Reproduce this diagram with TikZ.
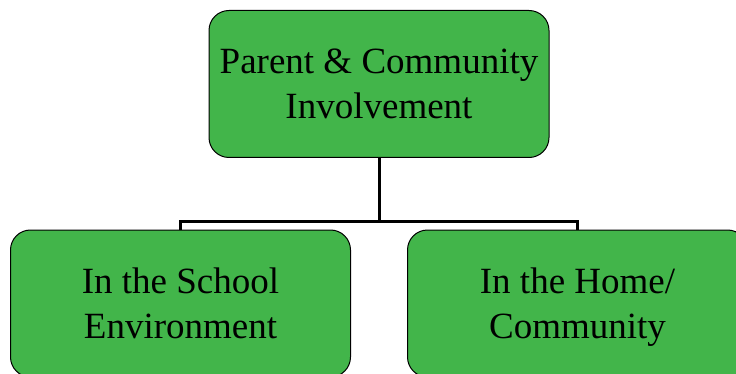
\documentclass[tikz,border=0pt]{standalone}
\usepackage{fontspec}
\setmainfont{Liberation Serif}
\definecolor{boxgreen}{HTML}{42B54A}
\newcommand\nodepthline[1]{\raisebox{0pt}[\height][0pt]{#1}}
\begin{document}
\begin{tikzpicture}[x=1pt,y=-1pt,
  box/.style={draw=black,line width=1pt,fill=boxgreen,rounded corners=20pt,
    minimum width=340pt,minimum height=147pt,align=center,inner sep=0pt,
    font=\fontsize{37}{45}\selectfont},
  conn/.style={draw=black,line width=3pt}]
\useasboundingbox (0,0) rectangle (736,374);
\node[box] (top) at (379,84) {Parent \& Community\\\nodepthline{Involvement}};
\node[box] (left) at (180.5,303.5) {In the School\\\nodepthline{Environment}};
\node[box] (right) at (577.5,303.5) {In the Home/\\\nodepthline{Community}};
\coordinate (mid) at (379,221.5);
\draw[conn] (top.south) -- (mid);
\draw[conn] (left.north) -- (left.north |- mid) -- (right.north |- mid) -- (right.north);
\end{tikzpicture}
\end{document}
